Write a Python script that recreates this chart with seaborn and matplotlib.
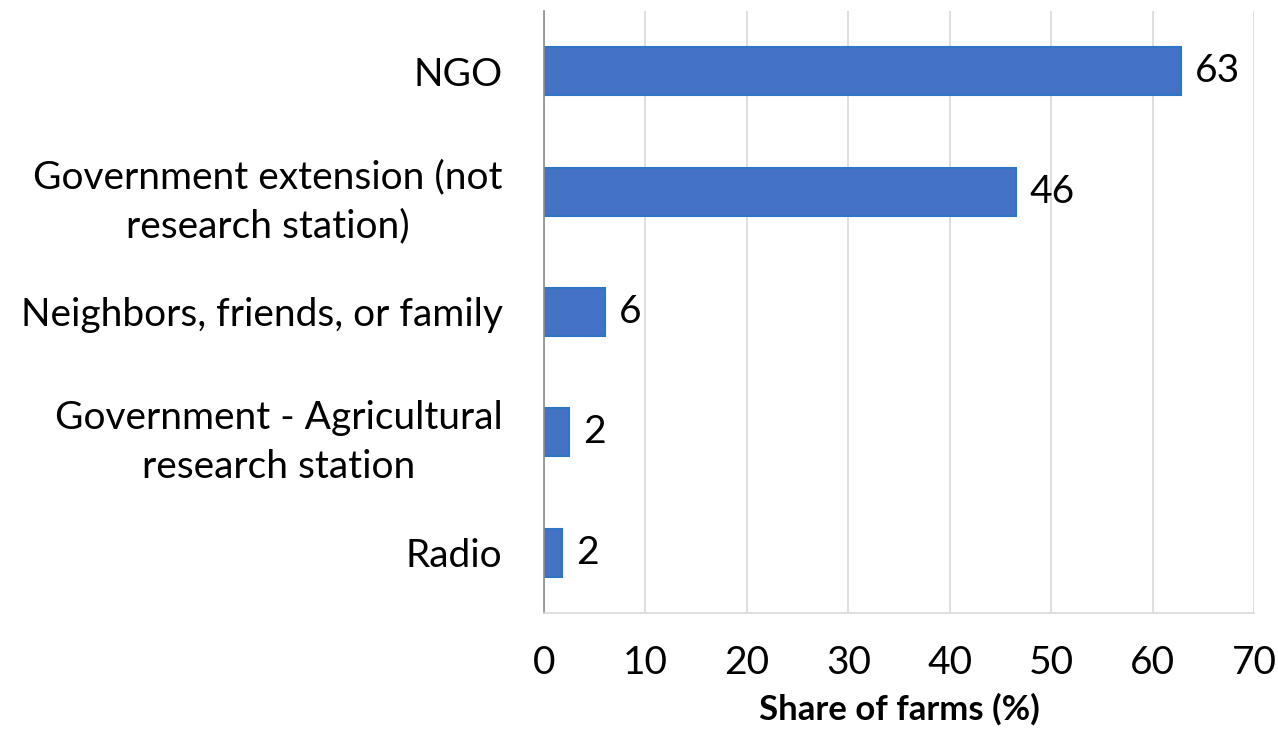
import matplotlib
matplotlib.use("Agg")
import matplotlib.pyplot as plt
import seaborn as sns
import pandas as pd

# Sources of information reported by farms
sources = [
    "NGO",
    "Government extension (not\nresearch station)",
    "Neighbors, friends, or family",
    "Government - Agricultural\nresearch station",
    "Radio",
]
share = [62.8, 46.5, 6.0, 2.5, 1.8]
x_ticks = [0, 10, 20, 30, 40, 50, 60, 70]

df = pd.DataFrame({"source": sources, "share": share})

sns.set_theme(style="white")
plt.rcParams["font.family"] = ["Lato", "DejaVu Sans"]

fig = plt.figure(figsize=(12.78, 7.34), dpi=100)
ax = fig.add_axes([0.4257, 0.1649, 0.9812 - 0.4257, 0.985 - 0.1649])

sns.barplot(data=df, x="share", y="source", orient="h", ax=ax,
            color="#4472C4", saturation=1, width=0.4,
            edgecolor="#2E75C6", linewidth=1.5)

ax.set_xlim(0, 70)
ax.set_xticks(x_ticks)
ax.set_xticklabels([str(t) for t in x_ticks])
ax.grid(axis="x", color="#d9d9d9", linewidth=1.2)
ax.set_axisbelow(True)

for side in ["top", "right"]:
    ax.spines[side].set_visible(False)
ax.spines["left"].set_color("#8c8c8c")
ax.spines["left"].set_linewidth(1.2)
ax.spines["bottom"].set_color("#d9d9d9")
ax.spines["bottom"].set_linewidth(1.2)

ax.tick_params(axis="y", length=0, pad=30, labelsize=28, labelcolor="black")
ax.tick_params(axis="x", length=0, pad=23, labelsize=28, labelcolor="black")
for lbl in ax.get_yticklabels():
    lbl.set_multialignment("center")
    lbl.set_linespacing(1.45)

ax.set_ylabel("")
ax.set_xlabel("Share of farms (%)", fontsize=25, fontweight="bold",
              color="black", labelpad=9)

ax.bar_label(ax.containers[0], labels=[f"{v:.0f}" for v in share],
             padding=10, fontsize=28, color="black")

fig.savefig("out.png", dpi=100, facecolor="white")
